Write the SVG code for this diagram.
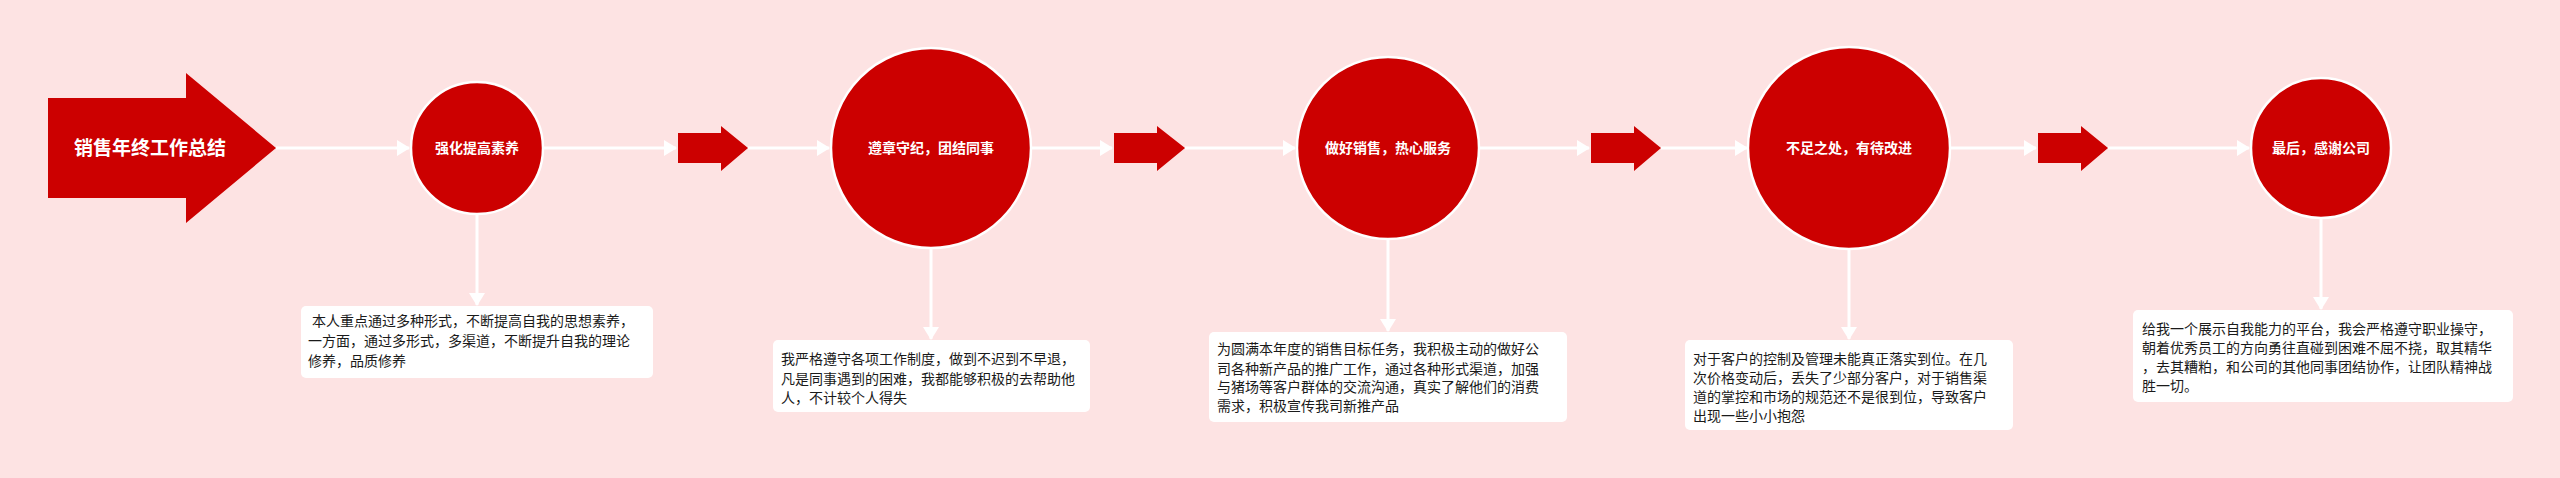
<svg xmlns="http://www.w3.org/2000/svg" width="2560" height="478" viewBox="0 0 2560 478">
<defs>
<style>
.bg{fill:#fde3e3}
.red{fill:#cc0000}
.circ{fill:#cc0000;stroke:#ffffff;stroke-width:2.5}
.lbl{font-family:"Liberation Sans","Noto Sans CJK SC",sans-serif;font-weight:bold;fill:#ffffff;text-anchor:middle;dominant-baseline:central}
.box{fill:#ffffff}
.txt{font-family:"Liberation Sans","Noto Sans CJK SC",sans-serif;font-size:14px;fill:#1a1a1a}
.con{stroke:#ffffff;stroke-width:3;fill:none}
</style>
<marker id="ah" markerUnits="userSpaceOnUse" markerWidth="14" markerHeight="16" refX="12" refY="8" orient="auto">
<path d="M0,0 L13,8 L0,16 Z" fill="#ffffff"/>
</marker>
</defs>
<rect class="bg" x="0" y="0" width="2560" height="478"/>

<g id="connectors">
<line class="con" x1="276" y1="148" x2="409" y2="148" marker-end="url(#ah)"/>
<line class="con" x1="544" y1="148" x2="676" y2="148" marker-end="url(#ah)"/>
<line class="con" x1="748" y1="148" x2="829" y2="148" marker-end="url(#ah)"/>
<line class="con" x1="1032" y1="148" x2="1112" y2="148" marker-end="url(#ah)"/>
<line class="con" x1="1185" y1="148" x2="1295" y2="148" marker-end="url(#ah)"/>
<line class="con" x1="1480" y1="148" x2="1589" y2="148" marker-end="url(#ah)"/>
<line class="con" x1="1661" y1="148" x2="1747" y2="148" marker-end="url(#ah)"/>
<line class="con" x1="1950" y1="148" x2="2036" y2="148" marker-end="url(#ah)"/>
<line class="con" x1="2108" y1="148" x2="2249" y2="148" marker-end="url(#ah)"/>
<line class="con" x1="477" y1="215" x2="477" y2="305" marker-end="url(#ah)"/>
<line class="con" x1="931" y1="249" x2="931" y2="339" marker-end="url(#ah)"/>
<line class="con" x1="1388" y1="240" x2="1388" y2="331" marker-end="url(#ah)"/>
<line class="con" x1="1849" y1="250" x2="1849" y2="339" marker-end="url(#ah)"/>
<line class="con" x1="2321" y1="218" x2="2321" y2="309" marker-end="url(#ah)"/>
</g>

<g id="title">
<polygon class="red" points="48,98 186,98 186,73 276,148 186,223 186,198 48,198"/>
<text class="lbl" x="150" y="148" font-size="19">销售年终工作总结</text>
</g>

<g id="arrowA"><polygon class="red" points="678,133 721,133 721,126 748,148 721,171 721,163 678,163"/></g>
<g id="arrowB"><polygon class="red" points="1114,133 1157,133 1157,126 1185,148 1157,171 1157,163 1114,163"/></g>
<g id="arrowC"><polygon class="red" points="1591,133 1634,133 1634,126 1661,148 1634,171 1634,163 1591,163"/></g>
<g id="arrowD"><polygon class="red" points="2038,133 2081,133 2081,126 2108,148 2081,171 2081,163 2038,163"/></g>

<g id="node1">
<circle class="circ" cx="477" cy="148" r="66"/>
<text class="lbl" x="477" y="148" font-size="14">强化提高素养</text>
</g>
<g id="node2">
<circle class="circ" cx="931" cy="148" r="100"/>
<text class="lbl" x="931" y="148" font-size="14">遵章守纪，团结同事</text>
</g>
<g id="node3">
<circle class="circ" cx="1388" cy="148" r="91"/>
<text class="lbl" x="1388" y="148" font-size="14">做好销售，热心服务</text>
</g>
<g id="node4">
<circle class="circ" cx="1849" cy="148" r="101"/>
<text class="lbl" x="1849" y="148" font-size="14">不足之处，有待改进</text>
</g>
<g id="node5">
<circle class="circ" cx="2321" cy="148" r="70"/>
<text class="lbl" x="2321" y="148" font-size="14">最后，感谢公司</text>
</g>

<g id="box1">
<rect class="box" x="301" y="306" width="352" height="72" rx="5"/>
<text class="txt"><tspan x="312" y="326">本人重点通过多种形式，不断提高自我的思想素养，</tspan><tspan x="308" y="346">一方面，通过多形式，多渠道，不断提升自我的理论</tspan><tspan x="308" y="366">修养，品质修养</tspan></text>
</g>
<g id="box2">
<rect class="box" x="773" y="340" width="317" height="72" rx="5"/>
<text class="txt"><tspan x="781" y="364">我严格遵守各项工作制度，做到不迟到不早退，</tspan><tspan x="781" y="384">凡是同事遇到的困难，我都能够积极的去帮助他</tspan><tspan x="781" y="403">人，不计较个人得失</tspan></text>
</g>
<g id="box3">
<rect class="box" x="1209" y="332" width="358" height="90" rx="5"/>
<text class="txt"><tspan x="1217" y="354">为圆满本年度的销售目标任务，我积极主动的做好公</tspan><tspan x="1217" y="374">司各种新产品的推广工作，通过各种形式渠道，加强</tspan><tspan x="1217" y="392">与猪场等客户群体的交流沟通，真实了解他们的消费</tspan><tspan x="1217" y="411">需求，积极宣传我司新推产品</tspan></text>
</g>
<g id="box4">
<rect class="box" x="1685" y="340" width="328" height="90" rx="5"/>
<text class="txt"><tspan x="1693" y="364">对于客户的控制及管理未能真正落实到位。在几</tspan><tspan x="1693" y="383">次价格变动后，丢失了少部分客户，对于销售渠</tspan><tspan x="1693" y="402">道的掌控和市场的规范还不是很到位，导致客户</tspan><tspan x="1693" y="421">出现一些小小抱怨</tspan></text>
</g>
<g id="box5">
<rect class="box" x="2133" y="310" width="380" height="92" rx="5"/>
<text class="txt"><tspan x="2142" y="334">给我一个展示自我能力的平台，我会严格遵守职业操守，</tspan><tspan x="2142" y="353">朝着优秀员工的方向勇往直碰到困难不屈不挠，取其精华</tspan><tspan x="2142" y="372">，去其糟粕，和公司的其他同事团结协作，让团队精神战</tspan><tspan x="2142" y="391">胜一切。</tspan></text>
</g>
</svg>
